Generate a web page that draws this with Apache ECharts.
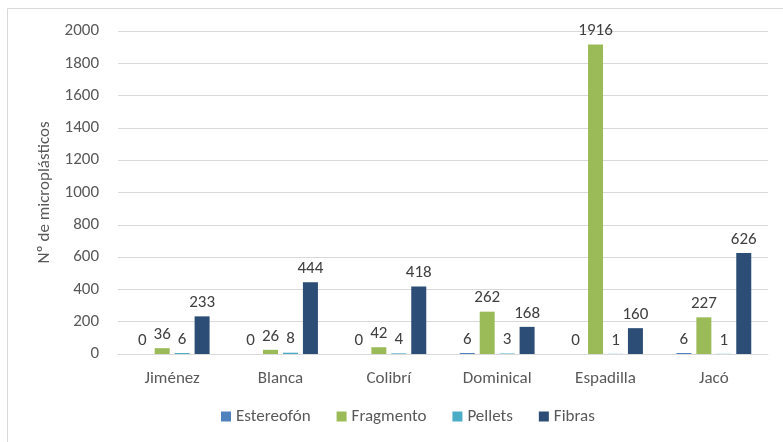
<!DOCTYPE html>
<html><head><meta charset="utf-8">
<script src="https://cdn.jsdelivr.net/npm/echarts@6/dist/echarts.min.js"></script>
<style>html,body{margin:0;padding:0;background:#fff}#c{width:783px;height:442px}</style>
</head><body><div id="c"></div>
<script>
const categories = ['Jiménez','Blanca','Colibrí','Dominical','Espadilla','Jacó'];
const seriesNames = ['Estereofón','Fragmento','Pellets','Fibras'];
const estereofon = [0,0,0,6,0,6];
const fragmento = [36,26,42,262,1916,227];
const pellets = [6,8,4,3,1,1];
const fibras = [233,444,418,168,160,626];
const yTicks = {min:0, max:2000, interval:200};
const colors = ['#4F81BD','#9BBB59','#4BACC6','#2C4D75'];
const FONT = "Carlito, Calibri, 'Open Sans', sans-serif";
const chart = echarts.init(document.getElementById('c'), null, {renderer:'canvas'});
const data = [estereofon, fragmento, pellets, fibras];
chart.setOption({
  animation:false,
  textStyle:{fontFamily:FONT},
  graphic:[{type:'rect',shape:{x:7.5,y:8.5,width:800,height:440},style:{fill:'none',stroke:'#d9d9d9',lineWidth:1},silent:true}],
  grid:{left:118,right:15,top:31,bottom:88},
  legend:{bottom:12,left:216,itemWidth:10,itemHeight:10,itemGap:26,icon:'rect',
    textStyle:{color:'#595959',fontSize:17,fontFamily:FONT},data:seriesNames},
  xAxis:{type:'category',data:categories,
    axisLine:{lineStyle:{color:'#d9d9d9'}},axisTick:{show:false},
    axisLabel:{color:'#595959',fontSize:17,margin:16,fontFamily:FONT}},
  yAxis:{type:'value',min:yTicks.min,max:yTicks.max,interval:yTicks.interval,
    name:'Nº de microplásticos',nameLocation:'middle',nameGap:65,nameRotate:90,
    nameTextStyle:{color:'#595959',fontSize:17,fontFamily:FONT},
    axisLine:{show:false},axisTick:{show:false},
    splitLine:{lineStyle:{color:'#d9d9d9'}},
    axisLabel:{color:'#595959',fontSize:17,margin:19,fontFamily:FONT,formatter:v=>String(v)}},
  series: seriesNames.map((n,i)=>({
    name:n,type:'bar',data:data[i],barWidth:15,barGap:'33%',
    itemStyle:{color:colors[i]},
    label:{show:true,position:'top',distance:5,color:'#404040',fontSize:17,fontFamily:FONT}
  }))
});
</script></body></html>
